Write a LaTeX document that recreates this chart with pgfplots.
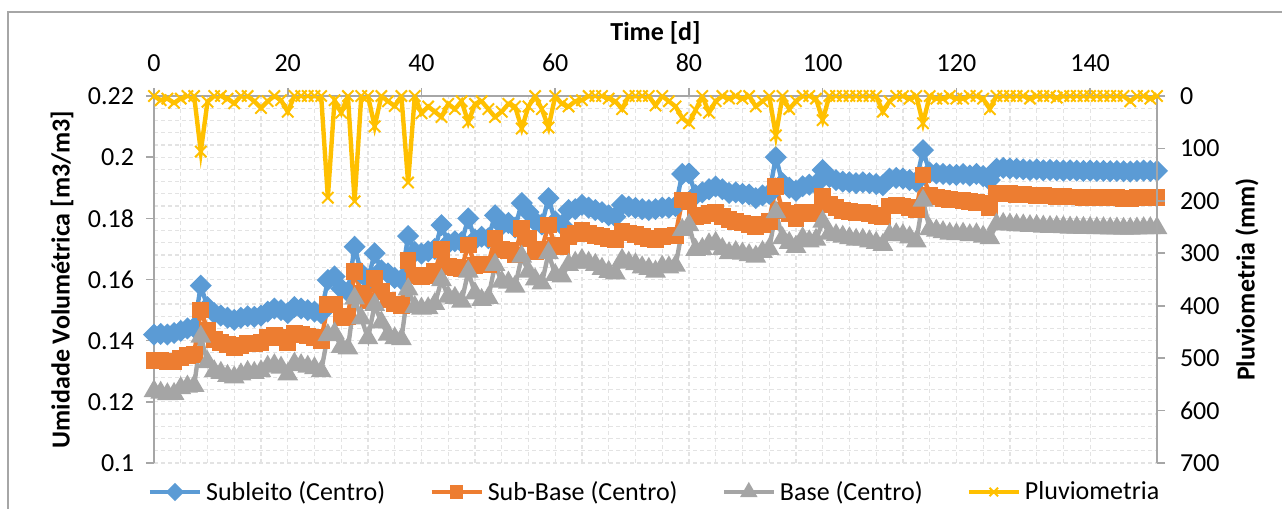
\documentclass[border=0pt]{standalone}
\usepackage{fontspec}
\setmainfont{Carlito}
\usepackage{pgfplots}
\usepackage{pgfplotstable}
\pgfplotsset{compat=1.18}

\definecolor{cSub}{HTML}{5B9BD5}
\definecolor{cSB}{HTML}{ED7D31}
\definecolor{cBase}{HTML}{A5A5A5}
\definecolor{cPluv}{HTML}{FFC000}
\definecolor{axgray}{HTML}{A6A6A6}
\definecolor{gridc}{HTML}{E3E3E3}
\definecolor{frame}{HTML}{A6A6A6}
\newcommand{\fs}{\fontsize{13bp}{15.6bp}\selectfont}

% d = dia, S = subleito, SB = sub-base, B = base, P = pluviometria (mm)
\pgfplotstableread{
d S SB B P
0 .1420 .1335 .1235 0
1 .1422 .1334 .1230 8
2 .1420 .1330 .1225 5
3 .1425 .1332 .1226 13
4 .1432 .1343 .1245 5
5 .1440 .1352 .1250 0
6 .1443 .1356 .1252 0
7 .1580 .1500 .1413 106
8 .1510 .1435 .1330 11
9 .1490 .1405 .1300 0
10 .1482 .1395 .1295 0
11 .1475 .1388 .1285 5
12 .1468 .1378 .1280 14
13 .1475 .1385 .1290 0
14 .1480 .1392 .1298 0
15 .1478 .1390 .1295 10
16 .1482 .1395 .1300 23
17 .1495 .1410 .1315 10
18 .1505 .1418 .1320 0
19 .1500 .1410 .1312 8
20 .1490 .1395 .1290 30
21 .1510 .1425 .1325 0
22 .1505 .1420 .1320 0
23 .1500 .1415 .1315 0
24 .1495 .1410 .1310 0
25 .1490 .1400 .1300 0
26 .1598 .1517 .1418 194
27 .1610 .1520 .1424 8
28 .1570 .1475 .1380 32
29 .1560 .1480 .1375 0
30 .1707 .1626 .1538 201
31 .1620 .1555 .1473 0
32 .1600 .1530 .1408 0
33 .1686 .1604 .1517 58
34 .1630 .1560 .1460 0
35 .1620 .1533 .1420 10
36 .1605 .1520 .1408 19
37 .1600 .1515 .1405 0
38 .1742 .1662 .1568 165
39 .1690 .1612 .1510 0
40 .1685 .1608 .1505 33
41 .1692 .1612 .1506 20
42 .1700 .1625 .1520 30
43 .1778 .1697 .1598 40
44 .1718 .1642 .1544 15
45 .1725 .1640 .1540 25
46 .1722 .1635 .1528 10
47 .1800 .1713 .1626 50
48 .1730 .1647 .1555 15
49 .1740 .1650 .1533 10
50 .1735 .1650 .1540 25
51 .1810 .1735 .1648 40
52 .1778 .1697 .1593 30
53 .1785 .1695 .1590 15
54 .1770 .1680 .1577 20
55 .1850 .1768 .1675 62
56 .1820 .1735 .1626 20
57 .1790 .1690 .1600 0
58 .1780 .1700 .1587 25
59 .1866 .1778 .1686 60
60 .1790 .1710 .1615 0
61 .1778 .1707 .1610 15
62 .1827 .1740 .1648 20
63 .1830 .1750 .1655 10
64 .1844 .1762 .1664 8
65 .1835 .1750 .1655 0
66 .1827 .1745 .1648 0
67 .1820 .1740 .1635 0
68 .1810 .1735 .1625 5
69 .1805 .1730 .1620 10
70 .1844 .1757 .1664 25
71 .1838 .1752 .1655 0
72 .1834 .1748 .1650 0
73 .1830 .1740 .1640 0
74 .1827 .1735 .1635 0
75 .1830 .1730 .1626 18
76 .1835 .1740 .1642 0
77 .1835 .1742 .1640 10
78 .1840 .1745 .1645 20
79 .1945 .1860 .1762 42
80 .1947 .1855 .1778 52
81 .1876 .1805 .1697 27
82 .1885 .1810 .1700 0
83 .1895 .1815 .1715 32
84 .1904 .1820 .1720 10
85 .1895 .1805 .1700 0
86 .1883 .1795 .1686 5
87 .1885 .1790 .1690 0
88 .1880 .1785 .1685 5
89 .1878 .1780 .1680 0
90 .1866 .1773 .1675 20
91 .1875 .1780 .1690 10
92 .1880 .1790 .1700 0
93 .2000 .1904 .1820 75
94 .1915 .1825 .1735 0
95 .1900 .1815 .1720 25
96 .1890 .1800 .1707 10
97 .1905 .1820 .1735 0
98 .1910 .1815 .1725 0
99 .1912 .1820 .1730 5
100 .1958 .1871 .1789 46
101 .1935 .1844 .1750 0
102 .1925 .1835 .1745 0
103 .1920 .1825 .1740 0
104 .1918 .1822 .1735 0
105 .1915 .1820 .1730 0
106 .1918 .1818 .1730 0
107 .1915 .1815 .1725 0
108 .1912 .1810 .1720 0
109 .1908 .1805 .1713 30
110 .1930 .1840 .1745 10
111 .1932 .1842 .1748 0
112 .1930 .1840 .1745 0
113 .1925 .1835 .1738 5
114 .1920 .1830 .1725 0
115 .2023 .1942 .1858 52
116 .1950 .1876 .1765 0
117 .1947 .1870 .1760 5
118 .1945 .1865 .1755 5
119 .1943 .1862 .1750 0
120 .1942 .1860 .1748 5
121 .1945 .1858 .1750 5
122 .1940 .1855 .1745 0
123 .1945 .1852 .1748 0
124 .1938 .1850 .1740 5
125 .1925 .1835 .1735 25
126 .1962 .1880 .1780 0
127 .1965 .1882 .1782 0
128 .1963 .1880 .1780 0
129 .1962 .1878 .1778 0
130 .1960 .1877 .1777 0
131 .1958 .1876 .1775 5
132 .1960 .1875 .1775 0
133 .1957 .1874 .1773 0
134 .1958 .1873 .1772 0
135 .1957 .1872 .1772 3
136 .1956 .1871 .1771 0
137 .1957 .1870 .1770 0
138 .1956 .1870 .1770 0
139 .1955 .1869 .1769 0
140 .1956 .1869 .1769 0
141 .1955 .1868 .1768 0
142 .1955 .1868 .1768 0
143 .1954 .1867 .1767 0
144 .1955 .1867 .1767 0
145 .1954 .1866 .1766 0
146 .1953 .1866 .1766 10
147 .1955 .1867 .1767 0
148 .1956 .1868 .1768 0
149 .1955 .1868 .1768 5
150 .1955 .1868 .1768 0
}\dados

\pgfplotsset{
  common/.style={
    at={(0,0)}, anchor=south west,
    scale only axis, width=501.5bp, height=183.5bp,
    xmin=0, xmax=150,
    axis line style={draw=axgray, line width=1bp, -},
    tick align=outside, major tick length=4bp, minor tick length=0pt,
    tick style={draw=axgray, line width=0.8bp},
    ticklabel style={font=\fs, text=black},
    /pgf/number format/assume math mode=true,
    legend image code/.code={
      \draw[mark repeat=2, mark phase=2, #1, every mark/.append style={scale=0.75}]
        plot coordinates {(0bp,0bp) (12.5bp,0bp) (25bp,0bp)};},
  },
  subl/.style={cSub, line width=2.2bp, mark=square*,
    mark options={solid, rotate=45, mark size=2.8bp, fill=cSub}},
  sbase/.style={cSB, line width=2.2bp, mark=square*,
    mark options={solid, mark size=3.1bp, fill=cSB}},
  base/.style={cBase, line width=2.2bp, mark=triangle*,
    mark options={solid, mark size=3.8bp, fill=cBase}},
  pluv/.style={cPluv, line width=2.2bp, mark=x,
    mark options={solid, mark size=4bp, line width=1bp}},
}

\begin{document}
\begin{tikzpicture}
\useasboundingbox (-77bp,-23bp) rectangle (564bp,231.5bp);
\draw[draw=frame, line width=0.7bp] (-73bp,-24bp) -- (-73bp,225.5bp) -- (565bp,225.5bp);

\begin{axis}[common,
  ymin=0.1, ymax=0.22,
  axis x line*=top, axis y line*=left,
  xtick={0,20,40,60,80,100,120,140},
  ytick={0.1,0.12,0.14,0.16,0.18,0.2,0.22},
  minor x tick num=4, minor y tick num=4,
  grid=both,
  major grid style={draw=gridc, dash pattern=on 2bp off 1.5bp, line width=0.6bp},
  minor grid style={draw=gridc, dash pattern=on 2bp off 1.5bp, line width=0.6bp},
  xticklabel style={yshift=4.5bp},
  yticklabel style={xshift=-2.5bp, /pgf/number format/fixed, /pgf/number format/precision=2},
  xlabel={Time [d]},
  ylabel={Umidade Volumétrica [m3/m3]},
  every axis x label/.style={at={(axis description cs:0.5,1.1717)}, anchor=center, font=\fs\bfseries},
  every axis y label/.style={at={(axis description cs:-0.0917,0.5)}, rotate=90, anchor=center, font=\fs\bfseries},
]
\addplot[subl]  table[x=d, y=S]  {\dados};
\addplot[sbase] table[x=d, y=SB] {\dados};
\addplot[base]  table[x=d, y=B]  {\dados};
\end{axis}

\begin{axis}[common,
  ymin=0, ymax=700, y dir=reverse,
  axis x line=none, xtick=\empty,
  axis y line*=right,
  ytick={0,100,200,300,400,500,600,700},
  yticklabel style={xshift=4bp},
  ylabel={Pluviometria (mm)},
  every axis y label/.style={at={(axis description cs:1.0897,0.5)}, rotate=90, anchor=center, font=\fs\bfseries},
  legend style={at={(axis description cs:0.5,-0.079)}, anchor=center,
    draw=none, fill=none, font=\fs, legend columns=4,
    /tikz/every even column/.append style={column sep=20bp}},
  legend cell align=left,
]
\addlegendimage{subl}
\addlegendentry{Subleito (Centro)}
\addlegendimage{sbase}
\addlegendentry{Sub-Base (Centro)}
\addlegendimage{base}
\addlegendentry{Base (Centro)}
\addplot[pluv] table[x=d, y=P] {\dados};
\addlegendentry{Pluviometria}
\end{axis}
\end{tikzpicture}
\end{document}
